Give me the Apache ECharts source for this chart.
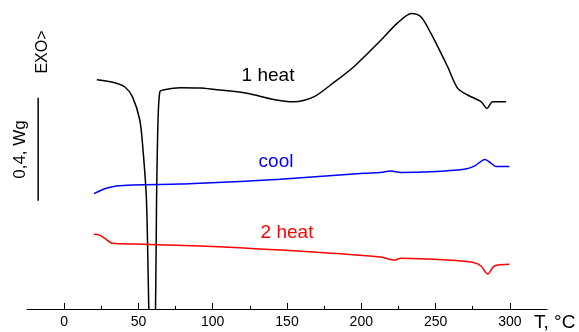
<!DOCTYPE html>
<html><head><meta charset="utf-8">
<script src="https://cdn.jsdelivr.net/npm/echarts@6/dist/echarts.min.js"></script>
<style>html,body{margin:0;padding:0;background:#fff}#c{width:579px;height:332px}</style>
</head><body><div id="c"></div>
<script>
// Temperatures (°C) and heat flow (W/g, arbitrary offset)
const heat1T = [22, 34, 40.7, 46, 50.9, 53.1, 55.4, 57.0, 59.3, 61.5, 62.2, 63.2, 64.4, 66.4, 77.9, 91.4, 100.4, 123.0, 140.9, 154.5, 168.0, 179.3, 195.0, 213.0, 224.3, 233.8, 240.1, 246.8, 258.1, 264.9, 271.6, 280.6, 284.6, 288.5, 297.5];
const heat1V = [0.890, 0.879, 0.863, 0.824, 0.734, 0.617, 0.423, 0.0, -0.5, 0.0, 0.423, 0.734, 0.844, 0.850, 0.859, 0.858, 0.853, 0.838, 0.814, 0.805, 0.824, 0.870, 0.941, 1.043, 1.110, 1.148, 1.135, 1.071, 0.941, 0.857, 0.831, 0.805, 0.779, 0.805, 0.805];
const coolT = [20.0, 28.4, 35.1, 46.4, 77.9, 91.4, 145.5, 201.8, 213.0, 219.8, 226.6, 246.8, 269.3, 276.1, 283.3, 287.4, 290.8, 299.7];
const coolV = [0.448, 0.469, 0.478, 0.482, 0.485, 0.488, 0.504, 0.527, 0.530, 0.536, 0.530, 0.533, 0.543, 0.555, 0.581, 0.566, 0.553, 0.553];
const heat2T = [20.0, 23.9, 27.2, 32.8, 46.4, 91.4, 145.5, 213.0, 222.0, 226.6, 258.1, 276.1, 280.6, 285.1, 289.6, 299.7];
const heat2V = [0.290, 0.287, 0.275, 0.255, 0.252, 0.245, 0.229, 0.202, 0.190, 0.197, 0.190, 0.180, 0.167, 0.136, 0.167, 0.174];
// scale bar: 0.4 W/g
const scaleBarT = [-17.5, -17.5];
const scaleBarV = [0.42, 0.82];
const majorTicks = [0, 50, 100, 150, 200, 250, 300];
const minorTicks = [25, 75, 125, 175, 225, 275];

const zip = (a, b) => a.map((x, i) => [x, b[i]]);
const chart = echarts.init(document.getElementById('c'), null, {renderer: 'canvas'});
const lineBase = {type: 'line', showSymbol: false, smooth: 0.3, animation: false, clip: true};
chart.setOption({
  backgroundColor: '#fff',
  animation: false,
  grid: {left: 27, right: 32, top: 0, bottom: 23},
  xAxis: [{
    type: 'value', min: -25, max: 325,
    axisLine: {lineStyle: {color: '#000', width: 1}},
    axisTick: {inside: true, length: 6, customValues: majorTicks, lineStyle: {color: '#000'}},
    axisLabel: {customValues: majorTicks, color: '#000', fontFamily: 'Liberation Sans, Arial, sans-serif', fontSize: 14, margin: 6},
    splitLine: {show: false}
  }, {
    type: 'value', min: -25, max: 325, position: 'bottom',
    axisLine: {show: false},
    axisTick: {inside: true, length: 3, customValues: minorTicks, lineStyle: {color: '#000'}},
    axisLabel: {show: false},
    splitLine: {show: false}
  }],
  yAxis: {type: 'value', min: 0, max: 1.2, show: false},
  series: [
    Object.assign({}, lineBase, {data: zip(heat1T, heat1V), lineStyle: {color: '#000', width: 1.5}, itemStyle: {color: '#000'}}),
    Object.assign({}, lineBase, {data: zip(coolT, coolV), lineStyle: {color: '#0000ff', width: 1.5}, itemStyle: {color: '#0000ff'}}),
    Object.assign({}, lineBase, {data: zip(heat2T, heat2V), lineStyle: {color: '#ff0000', width: 1.5}, itemStyle: {color: '#ff0000'}}),
    {type: 'line', showSymbol: false, smooth: false, data: zip(scaleBarT, scaleBarV), lineStyle: {color: '#000', width: 1.5}, animation: false}
  ],
  graphic: [
    {type: 'text', x: 268, y: 76, style: {text: '1 heat', fill: '#000', font: '19px "Liberation Sans", Arial, sans-serif', align: 'center', verticalAlign: 'middle'}},
    {type: 'text', x: 276, y: 162, style: {text: 'cool', fill: '#0000ff', font: '19px "Liberation Sans", Arial, sans-serif', align: 'center', verticalAlign: 'middle'}},
    {type: 'text', x: 287, y: 233, style: {text: '2 heat', fill: '#ff0000', font: '19px "Liberation Sans", Arial, sans-serif', align: 'center', verticalAlign: 'middle'}},
    {type: 'text', x: 534, y: 323, style: {text: 'T, °C', fill: '#000', font: '19px "Liberation Sans", Arial, sans-serif', align: 'left', verticalAlign: 'middle'}},
    {type: 'text', x: 42.5, y: 52, rotation: Math.PI / 2, style: {text: 'EXO>', fill: '#000', font: '16px "Liberation Sans", Arial, sans-serif', align: 'center', verticalAlign: 'middle'}},
    {type: 'text', x: 20, y: 149.5, rotation: Math.PI / 2, style: {text: '0,4, Wg', fill: '#000', font: '17px "Liberation Sans", Arial, sans-serif', align: 'center', verticalAlign: 'middle'}}
  ]
});
</script></body></html>
